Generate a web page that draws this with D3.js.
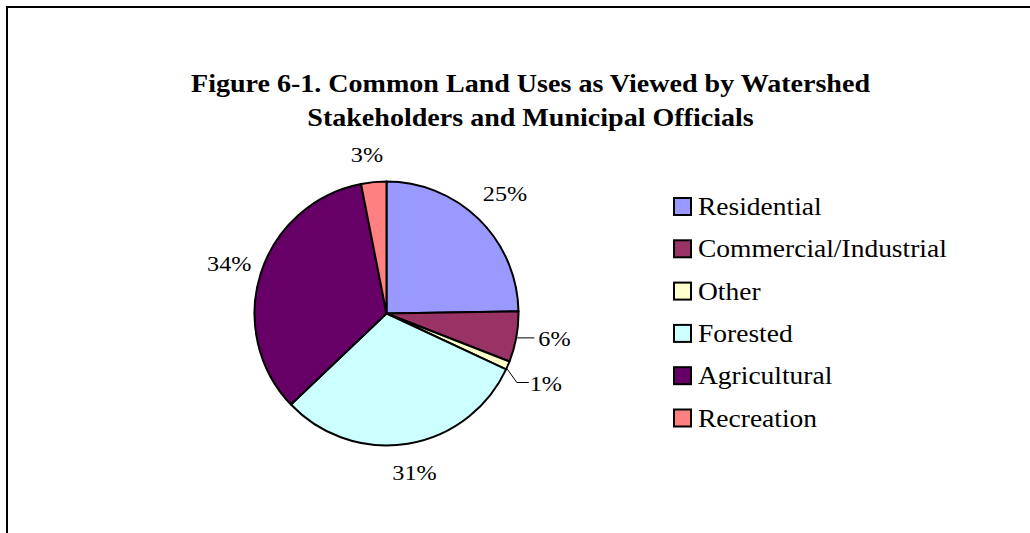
<!DOCTYPE html>
<html>
<head>
<meta charset="utf-8">
<script src="https://cdn.jsdelivr.net/npm/d3@7"></script>
<style>
  html, body { margin: 0; padding: 0; background: #fff; }
  svg { display: block; }
  text { font-family: "Liberation Serif", "Times New Roman", serif; fill: #000; }
</style>
</head>
<body>
<svg id="chart" width="1030" height="533"></svg>
<script>
// ---- data ----
const titleLines = ["Figure 6-1. Common Land Uses as Viewed by Watershed",
                    "Stakeholders and Municipal Officials"];
const categories = ["Residential", "Commercial/Industrial", "Other", "Forested", "Agricultural", "Recreation"];
const responses  = [24, 6, 1, 30, 33, 3];
const colors     = ["#9999FF", "#993366", "#FFFFCC", "#CCFFFF", "#660066", "#FF8080"];

// ---- layout ----
const svg = d3.select("#chart");
const W = 1030, H = 533;
const cx = 386.5, cy = 313.5, R = 132;
const sx = 1.1; // horizontal text stretch

// frame
svg.append("rect").attr("x", 7).attr("y", 7).attr("width", W + 10).attr("height", H + 10)
  .attr("fill", "none").attr("stroke", "#000").attr("stroke-width", 2);

function stretchedText(g, x, y, str, size, anchor, weight) {
  return g.append("text")
    .attr("transform", `translate(${x},${y}) scale(${sx},1)`)
    .attr("text-anchor", anchor)
    .style("font-size", size + "px")
    .style("font-weight", weight || "normal")
    .text(str);
}

// title
const titleY = [92, 126];
titleLines.forEach((t, i) => stretchedText(svg, 530.5, titleY[i], t, 25.5, "middle", "bold"));

// pie
const total = d3.sum(responses);
const data = categories.map((c, i) => ({ name: c, value: responses[i], color: colors[i] }));
const pie = d3.pie().value(d => d.value).sort(null);
const arcs = pie(data);
const arc = d3.arc().innerRadius(0).outerRadius(R);

const gp = svg.append("g").attr("transform", `translate(${cx},${cy})`);
gp.selectAll("path.slice").data(arcs).enter().append("path")
  .attr("class", "slice")
  .attr("d", arc)
  .attr("fill", d => d.data.color)
  .attr("stroke", "#000").attr("stroke-width", 2).attr("stroke-linejoin", "round");

// labels
const pct = d3.format(".0%");
const labelRadius = [169, 0, 0, 161, 165, 160];
const labelDx     = [0, 0, 0, 2, 0, -4];
arcs.forEach((a, i) => {
  const mid = (a.startAngle + a.endAngle) / 2;
  const txt = pct(a.data.value / total);
  const ex = Math.sin(mid) * R, ey = -Math.cos(mid) * R;
  if (i === 1 || i === 2) {
    let pts, lx, ly;
    if (i === 1) {
      pts = [[ex + 1, ey + 1], [ex + 18, ey + 1]];
      lx = ex + 38; ly = ey + 1;
    } else {
      pts = [[ex - 1, ey + 3], [ex + 9, ey + 17], [ex + 21, ey + 17]];
      lx = ex + 38; ly = ey + 17;
    }
    gp.append("path").attr("d", d3.line()(pts))
      .attr("fill", "none").attr("stroke", "#000").attr("stroke-width", 1);
    stretchedText(gp, lx, ly + 8.5, txt, 22, "middle");
  } else {
    const lr = labelRadius[i];
    const lx = Math.sin(mid) * lr + labelDx[i], ly = -Math.cos(mid) * lr;
    stretchedText(gp, lx, ly + 7.5, txt, 22, "middle");
  }
});

// legend
const legX = 674, legY0 = 198, legStep = 42.3, box = 17;
const lg = svg.append("g");
data.forEach((d, i) => {
  const y = legY0 + i * legStep;
  lg.append("rect").attr("x", legX).attr("y", y).attr("width", box).attr("height", box)
    .attr("fill", d.color).attr("stroke", "#000").attr("stroke-width", 2);
  stretchedText(lg, legX + 24, y + box, d.name, 25, "start");
});
</script>
</body>
</html>
